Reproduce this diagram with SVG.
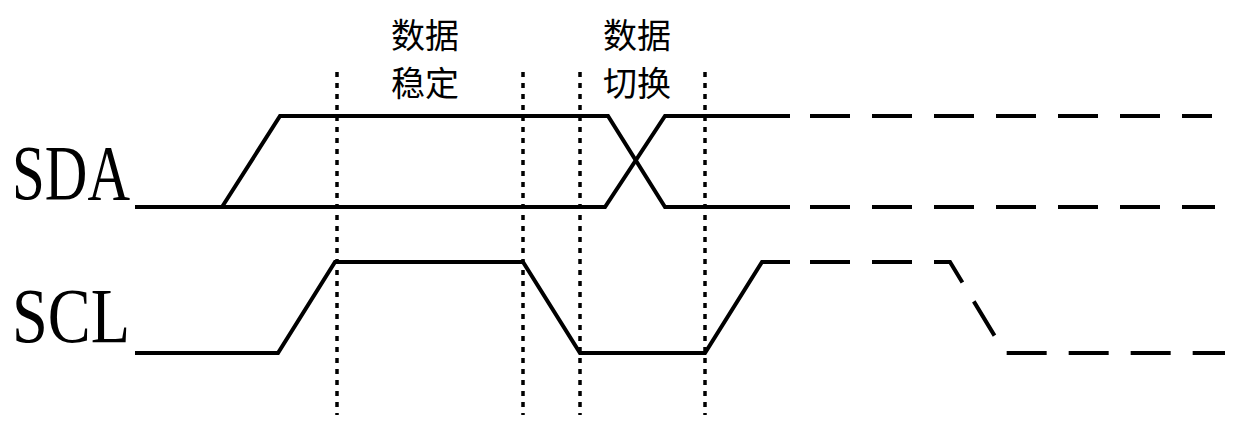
<svg xmlns="http://www.w3.org/2000/svg" width="1253" height="428" viewBox="0 0 1253 428">
<style>
.s{fill:none;stroke:#000;stroke-width:4}
.d{fill:none;stroke:#000;stroke-width:4;stroke-dasharray:40 22}
.v{fill:none;stroke:#000;stroke-width:3.5;stroke-dasharray:5 6}
.lab{font-family:"Liberation Serif",serif;font-size:78px}
.cn{font-family:"Noto Sans CJK SC",sans-serif;font-size:34px;text-anchor:middle}
</style>
<rect width="1253" height="428" fill="#fff"/>
<text class="lab" x="12" y="199" textLength="118" lengthAdjust="spacingAndGlyphs">SDA</text>
<text class="lab" x="12" y="342" textLength="118" lengthAdjust="spacingAndGlyphs">SCL</text>
<text class="cn" x="425" y="48">数据</text>
<text class="cn" x="425" y="96">稳定</text>
<text class="cn" x="637" y="48">数据</text>
<text class="cn" x="637" y="96">切换</text>
<g id="sda">
<polyline class="s" points="135,207 605,207 665,116 790,116"/>
<polyline class="s" points="222,207 280,116 608,116 665,207 790,207"/>
<line class="d" x1="810" y1="116" x2="1212" y2="116"/>
<line class="d" x1="810" y1="207" x2="1215" y2="207"/>
</g>
<g id="scl">
<polyline class="s" points="135,353 278,353 335,262 523,262 580,353 705,353 762,262 790,262"/>
<polyline class="d" points="810,262 950,262 1005,353 1225,353"/>
</g>
<g id="markers">
<line class="v" x1="337" y1="72" x2="337" y2="415"/>
<line class="v" x1="523" y1="72" x2="523" y2="415"/>
<line class="v" x1="580" y1="72" x2="580" y2="415"/>
<line class="v" x1="705" y1="72" x2="705" y2="415"/>
</g>
</svg>
